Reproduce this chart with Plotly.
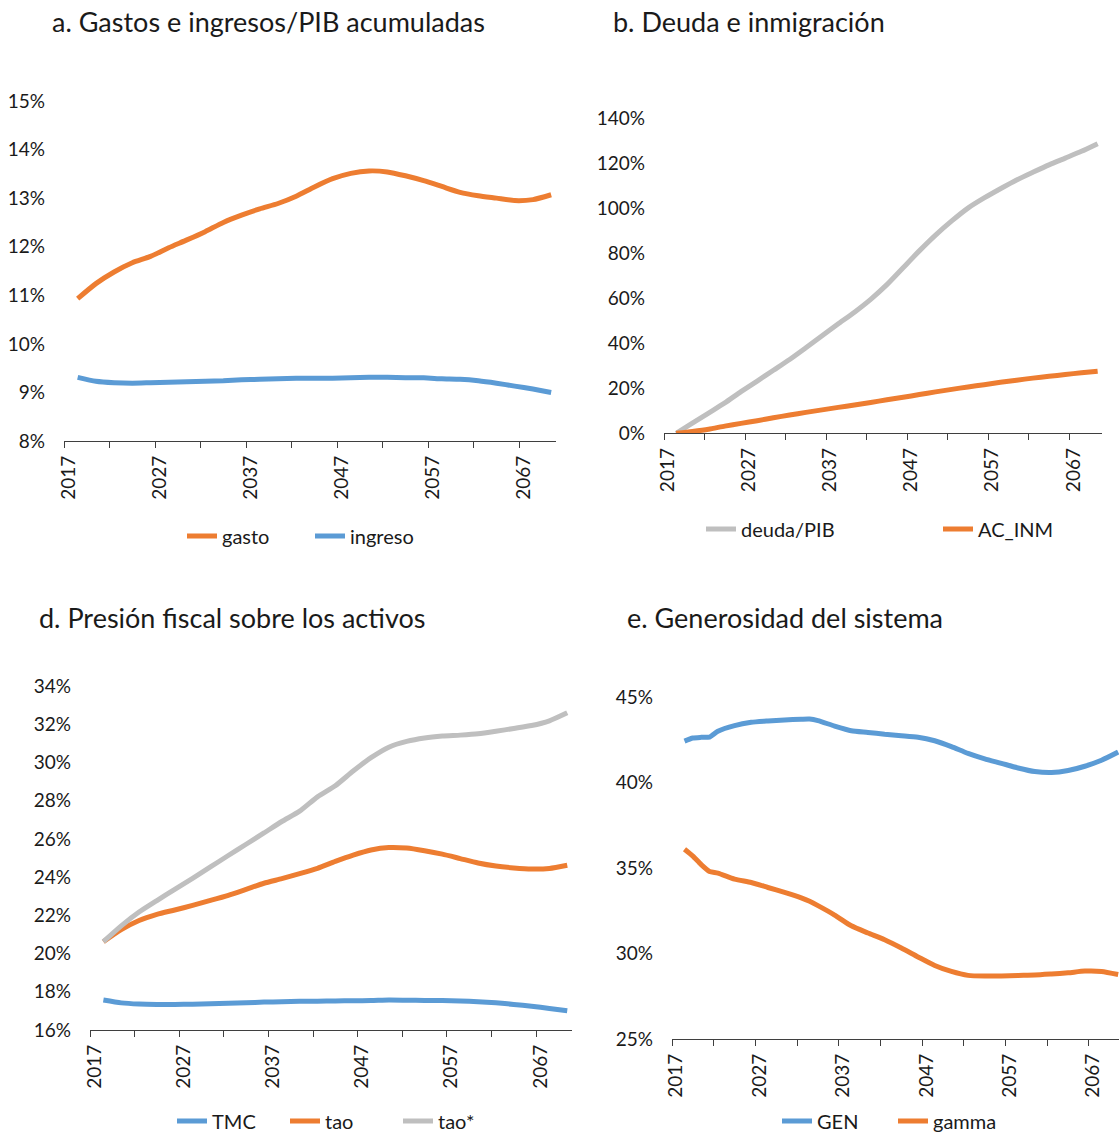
import plotly.graph_objects as go

# ---------------------------------------------------------------- data
YEARS = [2018, 2020, 2022, 2024, 2026, 2028, 2030, 2032, 2034, 2036, 2038, 2040, 2042, 2044,
         2046, 2048, 2050, 2052, 2054, 2056, 2058, 2060, 2062, 2064, 2066, 2068, 2070]

# a. Gastos e ingresos/PIB acumuladas (%)
GASTO = [10.93, 11.24, 11.48, 11.67, 11.80, 11.98, 12.14, 12.31, 12.50, 12.65, 12.78, 12.89, 13.04, 13.23,
         13.40, 13.51, 13.56, 13.54, 13.46, 13.36, 13.24, 13.12, 13.05, 13.00, 12.95, 12.97, 13.07]
INGRESO = [9.31, 9.23, 9.20, 9.19, 9.20, 9.21, 9.22, 9.23, 9.24, 9.26, 9.27, 9.28, 9.29, 9.29,
           9.29, 9.30, 9.31, 9.31, 9.30, 9.30, 9.28, 9.27, 9.24, 9.19, 9.13, 9.07, 9.00]

# b. Deuda e inmigración (%)
DEUDA_PIB = [0.0, 4.5, 9.0, 13.5, 18.5, 23.2, 28.0, 32.8, 38.0, 43.3, 48.6, 53.8, 59.5, 66.0,
             73.5, 81.0, 88.0, 94.3, 100.0, 104.5, 108.6, 112.5, 115.9, 119.2, 122.2, 125.2, 128.6]
AC_INM = [0.0, 0.8, 1.8, 3.2, 4.4, 5.6, 6.9, 8.1, 9.3, 10.4, 11.5, 12.6, 13.7, 14.9,
          16.0, 17.2, 18.4, 19.5, 20.6, 21.6, 22.7, 23.6, 24.5, 25.3, 26.1, 26.9, 27.6]

# d. Presión fiscal sobre los activos (%)
TMC = [17.57, 17.42, 17.36, 17.34, 17.34, 17.35, 17.37, 17.40, 17.43, 17.46, 17.48, 17.50, 17.51, 17.52,
       17.53, 17.54, 17.57, 17.56, 17.55, 17.54, 17.52, 17.48, 17.42, 17.34, 17.24, 17.13, 17.01]
TAO = [20.62, 21.25, 21.73, 22.05, 22.28, 22.52, 22.78, 23.05, 23.36, 23.68, 23.92, 24.18, 24.46, 24.82,
       25.15, 25.42, 25.55, 25.52, 25.38, 25.20, 24.97, 24.74, 24.58, 24.48, 24.42, 24.45, 24.62]
TAO_STAR = [20.62, 21.45, 22.17, 22.77, 23.36, 23.94, 24.53, 25.13, 25.72, 26.31, 26.91, 27.45, 28.20, 28.78,
            29.55, 30.25, 30.80, 31.10, 31.28, 31.38, 31.43, 31.50, 31.63, 31.78, 31.93, 32.18, 32.60]

# e. Generosidad del sistema (%)
YEARS_E = [2018, 2019, 2020, 2021, 2022, 2024, 2026, 2028, 2030, 2032, 2033, 2034, 2036, 2038, 2040,
           2042, 2044, 2046, 2048, 2050, 2052, 2054, 2056, 2058, 2060, 2062, 2064, 2066, 2068, 2070]
GEN = [42.42, 42.60, 42.64, 42.66, 43.00, 43.33, 43.52, 43.60, 43.66, 43.70, 43.71, 43.62, 43.30, 43.03, 42.93,
       42.82, 42.74, 42.65, 42.44, 42.10, 41.70, 41.38, 41.12, 40.85, 40.64, 40.58, 40.70, 40.95, 41.30, 41.78]
GAMMA = [36.10, 35.70, 35.20, 34.80, 34.70, 34.35, 34.15, 33.86, 33.57, 33.25, 33.05, 32.80, 32.25, 31.62, 31.20,
         30.80, 30.32, 29.80, 29.30, 28.95, 28.72, 28.68, 28.69, 28.72, 28.74, 28.80, 28.87, 28.97, 28.95, 28.77]

YEAR_LABELS = [2017, 2027, 2037, 2047, 2057, 2067]

TITLES = ["a. Gastos e ingresos/PIB acumuladas", "b. Deuda e inmigración",
          "d. Presión fiscal sobre los activos", "e. Generosidad del sistema"]

# ---------------------------------------------------------------- style
W, H = 1119, 1133
FONT = "Lato"
TXT = "#1a1a1a"
ORANGE = "#ED7D31"
BLUE = "#5B9BD5"
GRAY = "#BFBFBF"
LW = 5


def px_x(p):
    return p / W


def px_y(p):
    return 1 - p / H


fig = go.Figure()


def add_line(x, y, name, color, xa, ya, legend):
    fig.add_trace(go.Scatter(
        x=x, y=y, name=name, mode="lines",
        line=dict(color=color, width=LW, shape="spline", smoothing=0.6),
        xaxis=xa, yaxis=ya, legend=legend, hoverinfo="skip"))


add_line(YEARS, GASTO, "gasto", ORANGE, "x", "y", "legend")
add_line(YEARS, INGRESO, "ingreso", BLUE, "x", "y", "legend")
add_line(YEARS, DEUDA_PIB, "deuda/PIB", GRAY, "x2", "y2", "legend2")
add_line(YEARS, AC_INM, "AC_INM", ORANGE, "x2", "y2", "legend2")
add_line(YEARS, TMC, "TMC", BLUE, "x3", "y3", "legend3")
add_line(YEARS, TAO, "tao", ORANGE, "x3", "y3", "legend3")
add_line(YEARS, TAO_STAR, "tao*", GRAY, "x3", "y3", "legend3")
add_line(YEARS_E, GEN, "GEN", BLUE, "x4", "y4", "legend4")
add_line(YEARS_E, GAMMA, "gamma", ORANGE, "x4", "y4", "legend4")

# panel geometry in pixels: (x0, x1, y_top, y_bottom, x_max, y_range, y_step)
panels = [
    (64, 555.7, 101, 441, 2070.5, (8, 15), 1),
    (664, 1101.7, 118, 433.3, 2070.5, (0, 140), 20),
    (90, 571.7, 686, 1030, 2070.5, (16, 34), 2),
    (672, 1119, 697, 1039, 2070.1, (25, 45), 5),
]

axes = {}
for i, (x0, x1, yt, yb, xmax, yr, ystep) in enumerate(panels, start=1):
    sfx = "" if i == 1 else str(i)
    axes["xaxis" + sfx] = dict(
        domain=[px_x(x0), min(px_x(x1), 1.0)], anchor="y" + sfx,
        range=[2016.5, xmax], tickmode="array", tickvals=YEAR_LABELS,
        ticks="", tickangle=-90, ticklabelstandoff=6, automargin=False,
        showline=True, linecolor="#3f3f3f", linewidth=1.3,
        showgrid=False, zeroline=False,
        minor=dict(tick0=2016.5, dtick=5, ticks="outside", ticklen=6,
                   tickcolor="#3f3f3f", tickwidth=1.3, showgrid=False),
        tickfont=dict(family=FONT, size=19, color=TXT),
    )
    axes["yaxis" + sfx] = dict(
        domain=[px_y(yb), px_y(yt)], anchor="x" + sfx,
        range=list(yr), tickmode="linear", tick0=yr[0], dtick=ystep,
        ticksuffix="%", ticks="", showline=False, showgrid=False, zeroline=False,
        ticklabelstandoff=18, automargin=False,
        tickfont=dict(family=FONT, size=19, color=TXT),
    )

fig.update_layout(**axes)

title_pos = [(50, 22), (611, 22), (37, 617), (625, 617)]
for text, (x, y) in zip(TITLES, title_pos):
    fig.add_annotation(text=text, x=px_x(x), y=px_y(y), xref="paper", yref="paper",
                       xanchor="left", yanchor="middle", showarrow=False,
                       font=dict(family=FONT, size=27, color=TXT))

legend_common = dict(orientation="h", xanchor="left", yanchor="middle",
                     bgcolor="rgba(0,0,0,0)", borderwidth=0,
                     font=dict(family=FONT, size=20, color=TXT),
                     entrywidthmode="pixels", itemwidth=30)
fig.update_layout(
    legend=dict(x=px_x(182), y=px_y(536), entrywidth=83, **legend_common),
    legend2=dict(x=px_x(701), y=px_y(529), entrywidth=192, **legend_common),
    legend3=dict(x=px_x(172), y=px_y(1121), entrywidth=68, **legend_common),
    legend4=dict(x=px_x(777), y=px_y(1121), entrywidth=71, **legend_common),
)

fig.update_layout(
    width=W, height=H, margin=dict(l=0, r=0, t=0, b=0, autoexpand=False),
    paper_bgcolor="white", plot_bgcolor="white", showlegend=True,
)

fig.write_html("out.html", config={"displayModeBar": False})
